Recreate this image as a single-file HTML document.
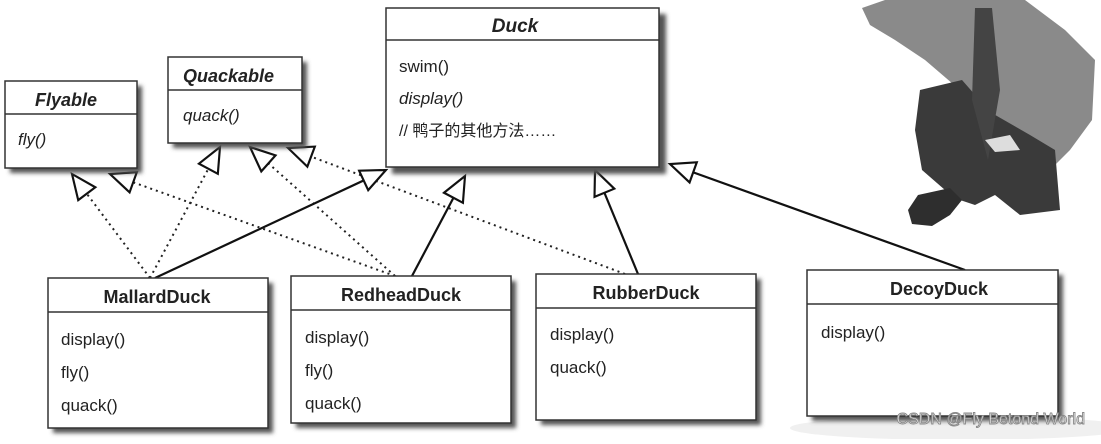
<!DOCTYPE html>
<html><head><meta charset="utf-8"><style>
body{margin:0;background:#fff}
svg text{font-family:"Liberation Sans","Noto Sans CJK SC",sans-serif;fill:#222}
</style></head><body>
<svg width="1101" height="439" viewBox="0 0 1101 439" xmlns="http://www.w3.org/2000/svg">
<defs>
<filter id="sh" x="-10%" y="-10%" width="130%" height="130%"><feGaussianBlur stdDeviation="2"/></filter>
<marker id="tri" markerUnits="userSpaceOnUse" markerWidth="30" markerHeight="30" viewBox="-2 -12 28 24" refX="23" refY="0" orient="auto">
<polygon points="0,-10 23,0 0,10" fill="#fff" stroke="#111" stroke-width="2"/>
</marker>
</defs>
<ellipse cx="960" cy="428" rx="170" ry="12" fill="#f0f0f0"/>
<!-- man -->
<g>
<path fill="#8a8a8a" d="M862 8 L885 0 L1025 0 L1065 30 L1095 60 L1092 120 L1070 150 L1050 170 L1030 150 L990 120 L960 90 L925 60 L895 40 L870 25Z"/>
<path fill="#3a3a3a" d="M920 90 L962 80 L990 112 L1030 135 L1055 150 L1060 210 L1020 215 L995 195 L975 205 L960 200 L945 190 L922 170 L915 130Z"/>
<path fill="#2e2e2e" d="M918 195 L950 188 L962 200 L950 215 L932 226 L912 224 L908 210Z"/>
<path fill="#444" d="M975 8 L992 8 L1000 90 L988 160 L972 100Z"/>
<path fill="#ddd" d="M985 140 L1010 135 L1020 150 L995 152Z"/>
</g>
<!-- connectors -->
<g stroke="#222" stroke-width="2" stroke-dasharray="2,4" fill="none" marker-end="url(#tri)">
<line x1="150" y1="278" x2="72" y2="174"/>
<line x1="395" y1="276" x2="110" y2="174"/>
<line x1="150" y1="278" x2="220" y2="147"/>
<line x1="395" y1="276" x2="250" y2="147"/>
<line x1="625" y1="274" x2="288" y2="148"/>
</g>
<g stroke="#111" stroke-width="2.2" fill="none" marker-end="url(#tri)">
<line x1="155" y1="278" x2="386" y2="170"/>
<line x1="412" y1="276" x2="465" y2="176"/>
<line x1="638" y1="274" x2="595" y2="170"/>
<line x1="965" y1="270" x2="670" y2="164"/>
</g>
<!-- boxes -->
<g>
<rect x="392" y="14" width="274" height="160" fill="#555" filter="url(#sh)"/>
<rect x="386" y="8" width="273" height="159" fill="#fff" stroke="#333" stroke-width="1.5"/>
<line x1="386" y1="40" x2="659" y2="40" stroke="#333" stroke-width="1.5"/>
<text x="515" y="32" font-size="19" font-weight="bold" font-style="italic" text-anchor="middle">Duck</text>
<text x="399" y="72" font-size="17">swim()</text>
<text x="399" y="104" font-size="17" font-style="italic">display()</text>
<text x="399" y="136" font-size="16">// 鸭子的其他方法……</text>

<rect x="173" y="62" width="134" height="86" fill="#555" filter="url(#sh)"/>
<rect x="168" y="57" width="134" height="86" fill="#fff" stroke="#333" stroke-width="1.5"/>
<line x1="168" y1="90" x2="302" y2="90" stroke="#333" stroke-width="1.5"/>
<text x="183" y="82" font-size="18" font-weight="bold" font-style="italic">Quackable</text>
<text x="183" y="121" font-size="17" font-style="italic">quack()</text>

<rect x="10" y="86" width="132" height="87" fill="#555" filter="url(#sh)"/>
<rect x="5" y="81" width="132" height="87" fill="#fff" stroke="#333" stroke-width="1.5"/>
<line x1="5" y1="114" x2="137" y2="114" stroke="#333" stroke-width="1.5"/>
<text x="66" y="106" font-size="18" font-weight="bold" font-style="italic" text-anchor="middle">Flyable</text>
<text x="18" y="145" font-size="17" font-style="italic">fly()</text>

<rect x="53" y="283" width="220" height="150" fill="#555" filter="url(#sh)"/>
<rect x="48" y="278" width="220" height="150" fill="#fff" stroke="#333" stroke-width="1.5"/>
<line x1="48" y1="312" x2="268" y2="312" stroke="#333" stroke-width="1.5"/>
<text x="157" y="303" font-size="18" font-weight="bold" text-anchor="middle">MallardDuck</text>
<text x="61" y="345" font-size="17">display()</text>
<text x="61" y="378" font-size="17">fly()</text>
<text x="61" y="411" font-size="17">quack()</text>

<rect x="296" y="281" width="220" height="147" fill="#555" filter="url(#sh)"/>
<rect x="291" y="276" width="220" height="147" fill="#fff" stroke="#333" stroke-width="1.5"/>
<line x1="291" y1="310" x2="511" y2="310" stroke="#333" stroke-width="1.5"/>
<text x="401" y="301" font-size="18" font-weight="bold" text-anchor="middle">RedheadDuck</text>
<text x="305" y="343" font-size="17">display()</text>
<text x="305" y="376" font-size="17">fly()</text>
<text x="305" y="409" font-size="17">quack()</text>

<rect x="541" y="279" width="220" height="146" fill="#555" filter="url(#sh)"/>
<rect x="536" y="274" width="220" height="146" fill="#fff" stroke="#333" stroke-width="1.5"/>
<line x1="536" y1="308" x2="756" y2="308" stroke="#333" stroke-width="1.5"/>
<text x="646" y="299" font-size="18" font-weight="bold" text-anchor="middle">RubberDuck</text>
<text x="550" y="340" font-size="17">display()</text>
<text x="550" y="373" font-size="17">quack()</text>

<rect x="812" y="275" width="251" height="146" fill="#555" filter="url(#sh)"/>
<rect x="807" y="270" width="251" height="146" fill="#fff" stroke="#333" stroke-width="1.5"/>
<line x1="807" y1="304" x2="1058" y2="304" stroke="#333" stroke-width="1.5"/>
<text x="939" y="295" font-size="18" font-weight="bold" text-anchor="middle">DecoyDuck</text>
<text x="821" y="338" font-size="17">display()</text>
</g>
<text x="1085" y="424" font-size="16" text-anchor="end" style="fill:#fff" stroke="#888" stroke-width="0.9">CSDN @Fly Betond World</text>
</svg>
</body></html>
